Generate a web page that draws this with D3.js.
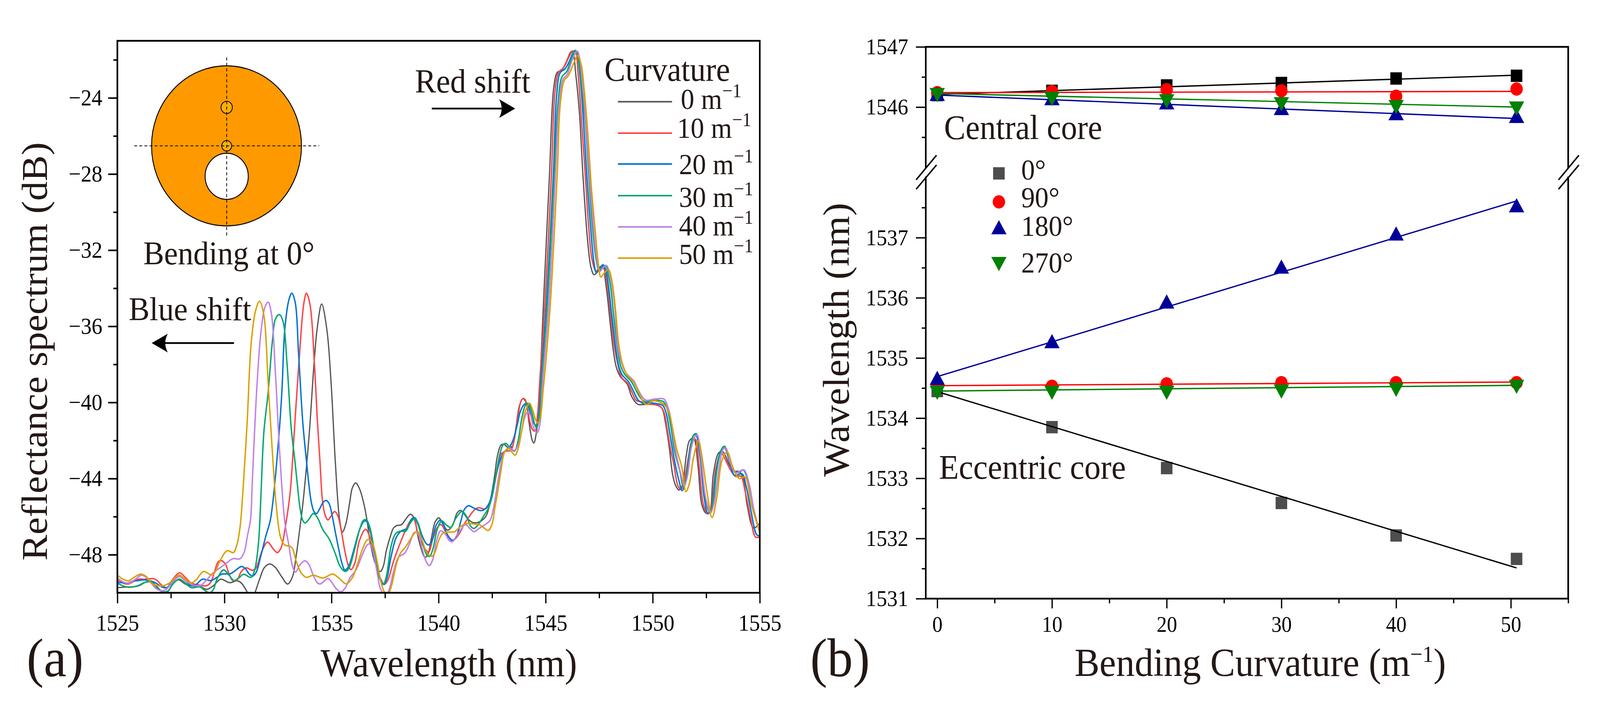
<!DOCTYPE html>
<html><head><meta charset="utf-8">
<script src="https://cdn.jsdelivr.net/npm/d3@7"></script>
<style>
html,body{margin:0;padding:0;background:#fff;overflow:hidden}
svg{display:block;width:100vw;height:100vh}
text{font-family:"Liberation Serif",serif;fill:#231815}
</style></head><body>
<svg id="c" viewBox="0 0 4376 1831" preserveAspectRatio="none"></svg>
<script>
// ---------- panel (a) data: [wavelength nm, reflectance dB]
const curve0 = [[1525,-49.73],[1525.44,-49.70],[1525.72,-49.69],[1526.01,-49.63],[1526.35,-49.43],[1526.63,-49.46],[1526.92,-49.77],[1527.17,-50.0],[1527.37,-49.92],[1527.6,-49.49],[1527.86,-49.32],[1528.17,-49.54],[1528.45,-49.63],[1528.85,-49.67],[1529.17,-49.82],[1529.48,-49.63],[1529.82,-49.29],[1530.25,-49.47],[1530.59,-49.37],[1530.79,-49.49],[1531.1,-50.04],[1531.25,-50.4],[1531.41,-50.04],[1531.64,-49.29],[1531.87,-48.67],[1532.13,-48.49],[1532.38,-48.67],[1532.67,-49.15],[1532.95,-49.54],[1533.18,-49.15],[1533.35,-48.06],[1533.5,-46.8],[1533.66,-45.35],[1533.95,-41.79],[1534.2,-37.71],[1534.34,-36.04],[1534.54,-34.83],[1534.78,-36.14],[1534.98,-38.96],[1535.18,-43.15],[1535.37,-46.08],[1535.51,-46.81],[1535.66,-46.42],[1535.85,-45.26],[1535.97,-44.5],[1536.13,-44.23],[1536.31,-44.54],[1536.51,-45.32],[1536.65,-46.14],[1536.82,-47.44],[1537.05,-48.47],[1537.28,-48.88],[1537.42,-48.6],[1537.56,-47.79],[1537.73,-47.1],[1537.9,-46.59],[1538.05,-46.47],[1538.27,-46.42],[1538.5,-46.08],[1538.69,-45.87],[1538.87,-46.11],[1539.01,-46.9],[1539.16,-47.58],[1539.36,-48.13],[1539.5,-47.99],[1539.67,-47.1],[1539.84,-46.28],[1540.01,-46.06],[1540.2,-46.38],[1540.41,-46.71],[1540.64,-46.49],[1540.87,-45.8],[1541.04,-45.67],[1541.38,-46.14],[1541.63,-46.32],[1541.95,-46.25],[1542.23,-45.94],[1542.46,-44.91],[1542.63,-43.75],[1542.74,-42.86],[1542.91,-42.25],[1543.06,-42.2],[1543.26,-42.39],[1543.43,-42.32],[1543.6,-41.43],[1543.77,-40.2],[1543.94,-39.8],[1544.08,-40.0],[1544.22,-41.02],[1544.37,-41.98],[1544.45,-42.13],[1544.56,-41.63],[1544.68,-40.4],[1544.75,-38.69],[1544.89,-34.98],[1545.18,-28.02],[1545.38,-23.44],[1545.54,-22.67],[1545.76,-22.53],[1545.92,-22.25],[1546.25,-21.57],[1546.41,-22.8],[1546.58,-24.82],[1546.74,-28.02],[1546.96,-31.5],[1547.12,-32.92],[1547.26,-33.29],[1547.4,-33.16],[1547.54,-32.89],[1547.71,-32.82],[1547.77,-33.43],[1547.88,-34.39],[1548.02,-35.89],[1548.16,-37.26],[1548.3,-38.15],[1548.5,-38.66],[1548.81,-39.04],[1549.03,-39.72],[1549.31,-40.1],[1549.65,-40.1],[1549.99,-40.1],[1550.27,-40.16],[1550.44,-40.33],[1550.61,-41.16],[1550.78,-42.43],[1550.93,-43.79],[1551.08,-44.39],[1551.23,-44.6],[1551.37,-44.39],[1551.57,-42.77],[1551.72,-42.0],[1551.91,-41.88],[1552.11,-43.28],[1552.3,-45.4],[1552.5,-45.83],[1552.65,-45.75],[1552.84,-43.71],[1553.09,-42.64],[1553.28,-42.6],[1553.58,-43.28],[1553.82,-43.62],[1554.02,-43.62],[1554.22,-43.96],[1554.41,-45.4],[1554.71,-46.6],[1555,-46.34]];
const curve10 = [[1525,-49.3],[1525.27,-49.49],[1525.5,-49.54],[1525.72,-49.43],[1525.95,-49.29],[1526.29,-49.29],[1526.69,-49.26],[1526.86,-49.36],[1527.09,-49.62],[1527.32,-49.73],[1527.54,-49.36],[1527.91,-48.95],[1528.17,-49.19],[1528.45,-49.49],[1528.85,-49.6],[1529.17,-49.63],[1529.37,-49.43],[1529.54,-48.88],[1529.71,-48.37],[1529.88,-48.32],[1530.05,-48.5],[1530.22,-49.02],[1530.39,-49.36],[1530.59,-49.32],[1530.79,-48.88],[1531.02,-48.69],[1531.3,-48.82],[1531.47,-48.71],[1531.76,-47.79],[1532.01,-47.34],[1532.27,-47.68],[1532.47,-47.89],[1532.64,-47.65],[1532.87,-46.35],[1533.07,-44.72],[1533.26,-41.58],[1533.51,-37.4],[1533.71,-34.78],[1533.83,-34.26],[1534.0,-34.88],[1534.2,-37.92],[1534.34,-40.95],[1534.46,-43.07],[1534.57,-45.05],[1534.69,-45.87],[1534.83,-46.17],[1535.0,-45.94],[1535.14,-45.73],[1535.29,-45.94],[1535.46,-46.76],[1535.63,-47.85],[1535.8,-48.61],[1535.91,-48.78],[1536.08,-48.47],[1536.31,-47.24],[1536.59,-46.67],[1536.82,-47.17],[1537.05,-48.4],[1537.28,-49.22],[1537.45,-49.56],[1537.62,-49.36],[1537.9,-48.33],[1538.19,-47.44],[1538.47,-46.69],[1538.67,-46.25],[1538.84,-46.14],[1539.04,-46.9],[1539.27,-47.51],[1539.53,-47.85],[1539.73,-47.17],[1539.95,-46.56],[1540.12,-46.42],[1540.35,-46.83],[1540.64,-47.24],[1540.92,-46.97],[1541.26,-46.28],[1541.72,-45.6],[1541.89,-45.53],[1542.17,-45.6],[1542.34,-45.39],[1542.57,-44.5],[1542.74,-43.55],[1542.91,-42.73],[1543.14,-42.56],[1543.37,-42.52],[1543.54,-41.91],[1543.71,-40.68],[1543.88,-39.86],[1544.0,-39.8],[1544.11,-40.06],[1544.25,-40.95],[1544.39,-41.43],[1544.51,-41.5],[1544.62,-40.68],[1544.74,-38.63],[1544.96,-34.98],[1545.27,-28.02],[1545.43,-23.72],[1545.6,-22.67],[1545.81,-22.44],[1545.98,-22.07],[1546.19,-21.57],[1546.38,-21.57],[1546.52,-22.8],[1546.68,-25.28],[1546.85,-28.02],[1547.01,-30.77],[1547.17,-32.51],[1547.36,-33.11],[1547.51,-32.89],[1547.65,-32.89],[1547.77,-33.09],[1547.88,-33.84],[1548.05,-35.55],[1548.19,-36.92],[1548.36,-37.94],[1548.55,-38.69],[1548.81,-38.97],[1549.0,-39.38],[1549.23,-39.89],[1549.48,-39.97],[1549.82,-40.08],[1550.16,-40.13],[1550.41,-40.27],[1550.55,-40.61],[1550.69,-41.5],[1550.83,-42.45],[1550.98,-43.2],[1551.18,-44.39],[1551.32,-44.56],[1551.47,-44.13],[1551.67,-42.86],[1551.81,-42.09],[1551.98,-41.92],[1552.16,-43.28],[1552.37,-45.4],[1552.57,-45.86],[1552.75,-45.4],[1552.94,-43.54],[1553.19,-42.64],[1553.33,-42.86],[1553.63,-43.54],[1553.87,-43.88],[1554.12,-43.88],[1554.31,-44.64],[1554.56,-46.0],[1554.8,-47.07],[1555,-47.07]];
const curve20 = [[1525,-49.45],[1525.21,-49.47],[1525.5,-49.49],[1525.72,-49.39],[1525.95,-49.36],[1526.29,-49.32],[1526.58,-49.39],[1526.8,-49.49],[1527.09,-49.7],[1527.32,-49.73],[1527.54,-49.43],[1527.91,-49.12],[1528.17,-49.36],[1528.45,-49.63],[1528.68,-49.56],[1528.97,-49.29],[1529.37,-49.36],[1529.65,-49.19],[1529.88,-49.02],[1530.28,-49.0],[1530.5,-48.84],[1530.79,-48.62],[1530.96,-48.71],[1531.16,-49.02],[1531.3,-49.12],[1531.47,-48.95],[1531.7,-48.06],[1531.93,-47.03],[1532.15,-46.14],[1532.48,-42.63],[1532.68,-39.49],[1532.82,-36.14],[1533.02,-34.57],[1533.15,-34.26],[1533.31,-34.78],[1533.46,-37.4],[1533.66,-41.06],[1533.83,-43.07],[1533.95,-44.37],[1534.06,-45.26],[1534.18,-45.73],[1534.3,-45.84],[1534.46,-45.56],[1534.6,-45.26],[1534.75,-45.15],[1534.89,-45.32],[1535.03,-45.94],[1535.17,-46.76],[1535.34,-47.72],[1535.51,-48.54],[1535.63,-48.81],[1535.8,-48.61],[1536.03,-47.79],[1536.31,-46.69],[1536.51,-46.25],[1536.62,-46.23],[1536.79,-46.69],[1536.99,-47.79],[1537.22,-49.08],[1537.45,-49.56],[1537.59,-49.22],[1537.79,-48.06],[1538.02,-47.1],[1538.25,-46.76],[1538.53,-46.62],[1538.73,-46.14],[1538.89,-46.06],[1539.04,-46.35],[1539.24,-47.03],[1539.44,-47.44],[1539.55,-47.48],[1539.7,-47.24],[1539.87,-46.49],[1540.09,-46.18],[1540.24,-46.42],[1540.41,-46.97],[1540.64,-47.25],[1540.81,-47.1],[1541.03,-46.28],[1541.2,-45.63],[1541.4,-45.43],[1541.66,-45.56],[1541.89,-45.67],[1542.06,-45.67],[1542.23,-45.53],[1542.4,-45.19],[1542.57,-44.37],[1542.74,-43.55],[1542.91,-42.93],[1543.08,-42.59],[1543.31,-42.35],[1543.48,-41.98],[1543.65,-41.29],[1543.82,-40.47],[1544.0,-40.1],[1544.14,-40.06],[1544.28,-40.54],[1544.45,-41.09],[1544.58,-41.22],[1544.68,-40.74],[1544.79,-38.69],[1545.03,-34.98],[1545.36,-28.02],[1545.51,-23.9],[1545.68,-22.67],[1545.9,-22.48],[1546.09,-22.12],[1546.3,-21.61],[1546.44,-21.57],[1546.6,-22.8],[1546.77,-25.28],[1546.92,-28.02],[1547.1,-30.77],[1547.26,-32.68],[1547.37,-33.19],[1547.54,-32.92],[1547.68,-32.77],[1547.82,-33.09],[1547.93,-33.84],[1548.1,-35.55],[1548.27,-37.12],[1548.41,-38.08],[1548.58,-38.56],[1548.86,-38.9],[1549.09,-39.38],[1549.31,-39.86],[1549.54,-40.03],[1549.82,-40.01],[1550.16,-40.06],[1550.47,-40.16],[1550.64,-40.61],[1550.78,-41.5],[1550.92,-42.45],[1551.08,-43.4],[1551.23,-44.13],[1551.37,-44.63],[1551.52,-44.22],[1551.72,-42.6],[1551.88,-41.79],[1552.01,-41.68],[1552.21,-42.86],[1552.4,-44.98],[1552.58,-45.83],[1552.73,-45.66],[1552.94,-43.79],[1553.19,-42.52],[1553.35,-42.35],[1553.58,-43.11],[1553.82,-43.83],[1554.17,-43.75],[1554.36,-44.39],[1554.61,-45.83],[1554.85,-46.94],[1555,-47.02]];
const curve30 = [[1525,-49.49],[1525.27,-49.64],[1525.55,-49.71],[1525.95,-49.63],[1526.35,-49.43],[1526.63,-49.46],[1526.86,-49.77],[1527.15,-49.96],[1527.37,-49.9],[1527.6,-49.53],[1527.89,-49.28],[1528.17,-49.49],[1528.45,-49.73],[1528.85,-49.69],[1529.08,-49.87],[1529.31,-50.0],[1529.48,-49.84],[1529.65,-49.29],[1529.96,-48.8],[1530.22,-49.08],[1530.45,-49.36],[1530.67,-49.22],[1530.9,-49.03],[1531.24,-49.19],[1531.41,-48.81],[1531.59,-47.38],[1531.7,-45.0],[1531.84,-41.58],[1532.04,-39.49],[1532.24,-36.77],[1532.38,-35.62],[1532.56,-35.38],[1532.73,-35.72],[1532.92,-37.92],[1533.12,-41.37],[1533.29,-43.07],[1533.41,-44.37],[1533.52,-45.47],[1533.64,-46.15],[1533.75,-46.33],[1533.89,-46.22],[1534.15,-45.84],[1534.32,-46.01],[1534.6,-46.69],[1534.89,-47.17],[1535.17,-47.92],[1535.4,-48.61],[1535.63,-48.88],[1535.8,-48.74],[1536.08,-47.72],[1536.31,-46.69],[1536.48,-46.21],[1536.62,-46.16],[1536.79,-46.56],[1536.99,-47.72],[1537.22,-49.15],[1537.42,-49.56],[1537.56,-49.15],[1537.79,-47.51],[1537.99,-46.9],[1538.19,-46.77],[1538.47,-46.76],[1538.67,-46.35],[1538.87,-46.11],[1539.04,-46.42],[1539.27,-47.44],[1539.44,-47.99],[1539.58,-48.09],[1539.73,-47.72],[1539.95,-46.62],[1540.15,-46.23],[1540.35,-46.42],[1540.56,-46.57],[1540.81,-46.08],[1541.09,-45.73],[1541.32,-46.01],[1541.49,-46.49],[1541.66,-46.62],[1541.89,-46.35],[1542.12,-45.94],[1542.34,-45.53],[1542.52,-44.85],[1542.69,-43.75],[1542.86,-42.73],[1543.0,-42.25],[1543.14,-42.15],[1543.31,-42.35],[1543.54,-42.56],[1543.71,-42.04],[1543.88,-40.88],[1544.05,-40.16],[1544.19,-40.05],[1544.34,-40.47],[1544.51,-41.22],[1544.58,-41.33],[1544.71,-40.68],[1544.82,-38.69],[1545.07,-34.98],[1545.4,-28.02],[1545.57,-24.36],[1545.76,-22.9],[1545.98,-22.62],[1546.19,-21.98],[1546.38,-21.5],[1546.52,-21.89],[1546.68,-23.44],[1546.85,-25.28],[1547.01,-28.02],[1547.17,-30.59],[1547.36,-32.51],[1547.5,-33.06],[1547.68,-32.85],[1547.81,-32.82],[1547.93,-33.29],[1548.05,-34.05],[1548.19,-35.62],[1548.36,-37.19],[1548.5,-38.08],[1548.69,-38.52],[1549.0,-38.9],[1549.23,-39.38],[1549.45,-39.79],[1549.65,-39.96],[1549.93,-39.92],[1550.21,-39.89],[1550.5,-39.96],[1550.69,-40.4],[1550.86,-41.36],[1551.0,-42.45],[1551.27,-43.62],[1551.42,-44.39],[1551.57,-43.96],[1551.76,-42.43],[1551.91,-41.71],[1552.04,-41.65],[1552.24,-42.86],[1552.45,-44.98],[1552.65,-45.75],[1552.79,-45.41],[1552.99,-43.62],[1553.19,-42.52],[1553.35,-42.3],[1553.58,-42.94],[1553.82,-43.66],[1554.07,-43.66],[1554.22,-43.54],[1554.46,-44.13],[1554.71,-45.58],[1555,-46.85]];
const curve40 = [[1525,-49.22],[1525.27,-49.43],[1525.55,-49.49],[1525.84,-49.29],[1526.12,-49.08],[1526.35,-49.19],[1526.58,-49.49],[1526.8,-49.77],[1527.03,-49.89],[1527.26,-49.84],[1527.54,-49.49],[1527.89,-49.15],[1528.17,-49.36],[1528.45,-49.56],[1528.68,-49.63],[1528.91,-49.6],[1529.14,-49.36],[1529.48,-48.95],[1529.82,-48.67],[1530.11,-48.43],[1530.39,-48.21],[1530.73,-48.21],[1530.93,-47.85],[1531.07,-47.03],[1531.22,-46.14],[1531.3,-44.19],[1531.5,-39.49],[1531.7,-36.35],[1531.89,-35.0],[1532.04,-34.73],[1532.19,-35.3],[1532.38,-38.44],[1532.58,-42.63],[1532.82,-46.29],[1533.01,-47.51],[1533.18,-48.61],[1533.32,-48.91],[1533.52,-48.54],[1533.75,-48.32],[1533.92,-48.47],[1534.15,-49.08],[1534.35,-49.49],[1534.49,-49.53],[1534.83,-49.25],[1535.0,-49.43],[1535.23,-49.8],[1535.43,-49.95],[1535.63,-49.77],[1535.86,-49.22],[1536.14,-48.81],[1536.42,-48.06],[1536.65,-47.51],[1536.78,-47.43],[1536.94,-47.85],[1537.11,-48.81],[1537.28,-49.77],[1537.42,-50.04],[1537.56,-50.11],[1537.71,-49.77],[1537.9,-48.88],[1538.13,-48.13],[1538.42,-47.92],[1538.64,-47.44],[1538.87,-46.83],[1539.04,-46.9],[1539.21,-47.58],[1539.41,-48.33],[1539.57,-48.57],[1539.73,-48.25],[1539.9,-47.29],[1540.09,-46.75],[1540.29,-46.88],[1540.49,-47.24],[1540.64,-47.32],[1540.86,-46.97],[1541.26,-46.42],[1541.46,-46.62],[1541.66,-46.79],[1541.89,-46.62],[1542.17,-46.42],[1542.4,-46.21],[1542.57,-45.53],[1542.77,-44.16],[1542.94,-43.07],[1543.08,-42.59],[1543.28,-42.39],[1543.54,-42.52],[1543.71,-42.25],[1543.88,-41.5],[1544.02,-40.81],[1544.14,-40.53],[1544.28,-40.64],[1544.45,-41.36],[1544.61,-41.58],[1544.74,-41.09],[1544.85,-39.04],[1545.14,-34.98],[1545.46,-28.02],[1545.62,-24.36],[1545.81,-23.03],[1546.01,-22.76],[1546.25,-21.98],[1546.47,-21.54],[1546.6,-21.98],[1546.74,-23.44],[1546.9,-25.73],[1547.07,-28.48],[1547.23,-30.77],[1547.39,-32.51],[1547.53,-33.11],[1547.68,-32.92],[1547.84,-32.8],[1547.96,-33.09],[1548.1,-33.84],[1548.22,-34.93],[1548.38,-37.12],[1548.55,-37.94],[1548.75,-38.45],[1549.12,-38.87],[1549.31,-39.31],[1549.54,-39.75],[1549.71,-39.89],[1549.99,-39.84],[1550.27,-39.8],[1550.52,-39.82],[1550.72,-40.27],[1550.89,-41.16],[1551.03,-42.32],[1551.32,-43.79],[1551.47,-44.39],[1551.62,-43.88],[1551.81,-42.35],[1551.98,-41.79],[1552.08,-41.71],[1552.25,-42.86],[1552.47,-44.98],[1552.7,-45.79],[1552.86,-45.32],[1553.09,-43.54],[1553.28,-42.48],[1553.41,-42.39],[1553.63,-43.2],[1553.87,-43.71],[1554.07,-43.61],[1554.26,-43.54],[1554.51,-44.3],[1554.75,-45.83],[1555,-46.77]];
const curve50 = [[1525,-49.07],[1525.27,-49.29],[1525.52,-49.37],[1525.78,-49.19],[1526.09,-49.02],[1526.35,-49.15],[1526.58,-49.49],[1526.86,-49.63],[1527.15,-49.63],[1527.43,-49.49],[1527.71,-49.19],[1527.91,-49.08],[1528.17,-49.29],[1528.45,-49.48],[1528.68,-49.32],[1529.02,-48.88],[1529.37,-49.05],[1529.54,-48.95],[1529.82,-48.26],[1530.13,-47.79],[1530.42,-47.89],[1530.59,-47.44],[1530.73,-46.55],[1530.86,-44.72],[1531.06,-41.06],[1531.25,-36.87],[1531.45,-35.2],[1531.64,-34.68],[1531.84,-35.41],[1532.04,-38.96],[1532.24,-42.63],[1532.43,-45.55],[1532.63,-47.12],[1532.82,-47.49],[1533.07,-47.56],[1533.18,-47.68],[1533.35,-48.33],[1533.58,-48.95],[1533.83,-49.19],[1534.15,-49.08],[1534.6,-49.22],[1535.06,-49.02],[1535.34,-49.22],[1535.68,-49.53],[1535.97,-49.22],[1536.2,-48.54],[1536.42,-47.79],[1536.65,-47.24],[1536.79,-47.2],[1536.97,-47.58],[1537.14,-48.4],[1537.31,-49.43],[1537.48,-49.97],[1537.65,-50.04],[1537.82,-49.56],[1538.02,-48.54],[1538.22,-47.92],[1538.47,-47.58],[1538.73,-47.1],[1538.93,-46.81],[1539.04,-46.81],[1539.21,-47.17],[1539.38,-47.72],[1539.55,-48.02],[1539.7,-48.08],[1539.84,-47.85],[1540.01,-47.24],[1540.21,-46.86],[1540.47,-46.81],[1540.75,-46.79],[1540.98,-46.56],[1541.26,-46.37],[1541.6,-46.38],[1541.89,-46.42],[1542.12,-46.59],[1542.32,-46.73],[1542.49,-46.42],[1542.63,-45.53],[1542.77,-44.64],[1542.91,-43.62],[1543.08,-42.62],[1543.26,-42.42],[1543.43,-42.62],[1543.57,-42.77],[1543.71,-42.45],[1543.88,-41.5],[1544.05,-40.47],[1544.25,-40.05],[1544.39,-40.4],[1544.56,-40.98],[1544.65,-41.07],[1544.76,-40.75],[1544.88,-39.38],[1544.97,-38.35],[1545.21,-34.98],[1545.54,-28.02],[1545.68,-24.36],[1545.87,-23.08],[1546.05,-22.85],[1546.3,-22.21],[1546.49,-21.78],[1546.66,-22.25],[1546.79,-23.44],[1546.96,-25.73],[1547.14,-28.76],[1547.32,-31.05],[1547.45,-32.6],[1547.58,-33.41],[1547.74,-33.19],[1547.93,-33.01],[1548.05,-33.36],[1548.16,-34.11],[1548.27,-35.21],[1548.41,-36.92],[1548.58,-37.94],[1548.81,-38.56],[1549.09,-38.9],[1549.31,-39.38],[1549.54,-39.92],[1549.71,-40.12],[1549.99,-39.92],[1550.27,-39.96],[1550.55,-40.13],[1550.78,-40.61],[1550.95,-41.5],[1551.12,-42.45],[1551.37,-43.45],[1551.55,-44.69],[1551.72,-44.22],[1551.91,-42.86],[1552.14,-42.02],[1552.3,-42.86],[1552.55,-44.81],[1552.77,-46.05],[1552.99,-45.0],[1553.24,-43.03],[1553.48,-42.6],[1553.73,-43.37],[1554.04,-44.0],[1554.31,-43.92],[1554.61,-45.4],[1555,-46.81]];
const curveLabels = ["0","10","20","30","40","50"];
const curveColors = ["#555555","#ff4444","#0073d6","#00a86b","#c080e6","#dc9f00"];
const xTicksA = [1525,1530,1535,1540,1545,1550,1555];
const yTicksA = [-24,-28,-32,-36,-40,-44,-48];

// ---------- panel (b) data
const curvature = [0,10,20,30,40,50.5];
const angleLabels = ["0°","90°","180°","270°"];
const angleColors = ["#000000","#ff0000","#000099","#008000"];
const top0   = [1546.20,1546.27,1546.36,1546.40,1546.475,1546.52];
const top90  = [1546.24,1546.26,1546.29,1546.27,1546.18,1546.30];
const top180 = [1546.18,1546.11,1546.04,1545.945,1545.86,1545.815];
const top270 = [1546.24,1546.175,1546.136,1546.087,1546.04,1546.015];
const low0   = [1534.45,1533.85,1533.17,1532.59,1532.05,1531.66];
const low90  = [1534.54,1534.53,1534.57,1534.59,1534.59,1534.59];
const low180 = [1534.63,1535.24,1535.90,1536.48,1537.03,1537.50];
const low270 = [1534.46,1534.46,1534.46,1534.48,1534.51,1534.56];
const fitCurvature = [0,50.5];
const fitTop = [[1546.21,1546.53],[1546.24,1546.26],[1546.20,1545.81],[1546.226,1546.0]];
const fitLow = [[1534.44,1531.51],[1534.54,1534.60],[1534.69,1537.61],[1534.45,1534.545]];
const xTicksB = [0,5,10,15,20,25,30,35,40,45,50,55];

// ---------- layout
const svg = d3.select("#c");
svg.append("rect").attr("width",4376).attr("height",1831).attr("fill","#fff");

function label(x,y,t,size,anchor,rot){
  const s = svg.append("text").attr("font-size",size).attr("text-anchor",anchor||"start").text(t);
  if(rot) s.attr("transform",`translate(${x},${y}) rotate(${rot})`);
  else s.attr("x",x).attr("y",y);
  return s;
}
function sup(s,t,size,dy){
  s.append("tspan").attr("font-size",size).attr("dy",-dy).text(t);
  return s;
}
function arrow(x0,x1,y){
  const d = x1>x0?1:-1;
  svg.append("line").attr("x1",x0).attr("x2",x1-d*30).attr("y1",y).attr("y2",y).attr("stroke","#000").attr("stroke-width",4.5);
  svg.append("path").attr("fill","#000")
    .attr("d",`M${x1},${y}L${x1-d*44},${y-24}Q${x1-d*30},${y} ${x1-d*44},${y+24}Z`);
}

// ---------- panel (a)
const ax = {l:321,r:2078,t:104.5,b:1518};
const xA = d3.scaleLinear().domain([1525,1555]).range([ax.l,ax.r]);
const yA = d3.scaleLinear().domain([-50,-21]).range([ax.b,ax.t]);
svg.append("clipPath").attr("id","clipA").append("rect")
  .attr("x",ax.l).attr("y",ax.t).attr("width",ax.r-ax.l).attr("height",ax.b-ax.t);

const lineA = d3.line().x(d=>xA(d[0])).y(d=>yA(d[1])).curve(d3.curveCatmullRom.alpha(0.5));
const gA = svg.append("g").attr("clip-path","url(#clipA)");
[curve0,curve10,curve20,curve30,curve40,curve50].forEach((c,i)=>{
  gA.append("path").attr("d",lineA(c)).attr("fill","none")
    .attr("stroke",curveColors[i]).attr("stroke-width",i===0?3.4:3.8).attr("stroke-linejoin","round");
});

const axA = svg.append("g").attr("transform",`translate(0,${ax.b})`)
  .call(d3.axisBottom(xA).tickValues(d3.range(1525,1555.1,2.5)).tickSize(27).tickPadding(28)
    .tickFormat(d=>xTicksA.includes(d)?d3.format("d")(d):""));
axA.select(".domain").remove();
axA.selectAll(".tick line").attr("y2",d=>xTicksA.includes(d)?27:14).attr("stroke","#000").attr("stroke-width",3.5);
axA.selectAll("text").attr("font-size",59).style("fill","#000");

const ayA = svg.append("g").attr("transform",`translate(${ax.l},0)`)
  .call(d3.axisLeft(yA).tickValues(d3.range(-48,-21,2)).tickSize(25).tickPadding(16)
    .tickFormat(d=>yTicksA.includes(d)?d3.format("d")(d):""));
ayA.select(".domain").remove();
ayA.selectAll(".tick line").attr("x2",d=>yTicksA.includes(d)?-25:-11).attr("stroke","#000").attr("stroke-width",4);
ayA.selectAll("text").attr("font-size",59).style("fill","#000");

svg.append("rect").attr("x",ax.l).attr("y",ax.t).attr("width",ax.r-ax.l).attr("height",ax.b-ax.t)
  .attr("fill","none").attr("stroke","#000").attr("stroke-width",4.5);

label(877,1732,"Wavelength (nm)",101);
label(128,900,"Reflectance spectrum (dB)",100,"middle",-90);
label(73,1732,"(a)",140);

// inset fibre section
const ins = svg.append("g");
ins.append("circle").attr("cx",619.5).attr("cy",373.5).attr("r",205).attr("fill","#ff9900").attr("stroke","#000").attr("stroke-width",2.5);
ins.append("circle").attr("cx",620).attr("cy",451.5).attr("r",59).attr("fill","#fff").attr("stroke","#000").attr("stroke-width",2.5);
ins.append("circle").attr("cx",620).attr("cy",275).attr("r",15.5).attr("fill","#ffb000").attr("stroke","#000").attr("stroke-width",2.2);
ins.append("circle").attr("cx",620).attr("cy",373.5).attr("r",13.5).attr("fill","#ffb000").attr("stroke","#000").attr("stroke-width",2.2);
ins.append("line").attr("x1",620).attr("x2",620).attr("y1",147).attr("y2",603).attr("stroke","#000").attr("stroke-width",2).attr("stroke-dasharray","8 6");
ins.append("line").attr("x1",367).attr("x2",873).attr("y1",373.5).attr("y2",373.5).attr("stroke","#000").attr("stroke-width",2).attr("stroke-dasharray","8 6");
label(392,677,"Bending at 0°",85);

label(352,820,"Blue shift",85.5);
arrow(640,415,878.5);
label(1135,237,"Red shift",86.8);
arrow(1181,1409,278);

label(1653,207,"Curvature",86);
const legY = [260.5,341,420,501,581,661];
const legBase = [279,353,446,530,603,676];
const legX = [1862,1852,1857,1857,1857,1857];
curveLabels.forEach((t,i)=>{
  svg.append("line").attr("x1",1690).attr("x2",1838).attr("y1",legY[i]).attr("y2",legY[i])
    .attr("stroke",curveColors[i]).attr("stroke-width",4);
  const s = label(legX[i],legBase[i],t+" m",74);
  sup(s,"−1",50,30);
});

// ---------- panel (b)
const bx = {l:2532,r:4289,t:120,b:1533,bk0:428.5,bk1:454.5};
const xB = d3.scaleLinear().domain([-1,55]).range([bx.l,bx.r]);
const yTop = d3.scaleLinear().domain([1545,1547]).range([bx.bk0,bx.t]);
const yLow = d3.scaleLinear().domain([1531,1538]).range([bx.b,bx.bk1]);

const symbols = [d3.symbolSquare,d3.symbolCircle,d3.symbolTriangle,d3.symbolTriangle];
const sizes = [1000,908,760,760];
const rots = [0,0,0,180];
function mark(g,x,y,i,fill){
  g.append("path").attr("d",d3.symbol(symbols[i],sizes[i])())
    .attr("transform",`translate(${x},${y}) rotate(${rots[i]})`).attr("fill",fill);
}
function drawGroup(vals,fits,scale,firstFill){
  const line = d3.line().x(d=>xB(d[0])).y(d=>scale(d[1]));
  const g = svg.append("g");
  vals.forEach((v,i)=>{
    const fill = i===0?firstFill:angleColors[i];
    v.forEach((val,j)=>mark(g,xB(curvature[j]),scale(val),i,fill));
    g.append("path").attr("d",line(d3.zip(fitCurvature,fits[i]))).attr("fill","none")
      .attr("stroke",angleColors[i]).attr("stroke-width",3.4);
  });
}
drawGroup([top0,top90,top180,top270],fitTop,yTop,"#000000");
drawGroup([low0,low90,low180,low270],fitLow,yLow,"#4d4d4d");

const axB = svg.append("g").attr("transform",`translate(0,${bx.b})`)
  .call(d3.axisBottom(xB).tickValues(xTicksB).tickSize(25).tickPadding(20)
    .tickFormat(d=>(d%10===0&&d<=50)?d:""));
axB.select(".domain").remove();
axB.selectAll(".tick line").attr("y2",d=>d%10===0&&d<=50?25:12).attr("stroke","#000").attr("stroke-width",3.5);
axB.selectAll("text").attr("font-size",56).style("fill","#000");

function yAxisB(scale,vals){
  const a = svg.append("g").attr("transform",`translate(${bx.l},0)`)
    .call(d3.axisLeft(scale).tickValues(vals).tickSize(27).tickPadding(21)
      .tickFormat(d=>Number.isInteger(d)?d3.format("d")(d):""));
  a.select(".domain").remove();
  a.selectAll(".tick line").attr("x2",d=>Number.isInteger(d)?-27:-11).attr("stroke","#000").attr("stroke-width",3.5);
  a.selectAll("text").attr("font-size",58).style("fill","#000");
}
yAxisB(yTop,[1545.5,1546,1546.5,1547]);
yAxisB(yLow,d3.range(1531,1537.6,0.5));

const frame = svg.append("g").attr("stroke","#000").attr("fill","none").attr("stroke-linecap","square");
frame.append("path").attr("stroke-width",4.5).attr("d",`M${bx.l},${bx.bk0}V${bx.t}H${bx.r}V${bx.bk0}`);
frame.append("path").attr("stroke-width",4.5).attr("d",`M${bx.l},${bx.bk1}V${bx.b}H${bx.r}V${bx.bk1}`);
[bx.l,bx.r].forEach(x=>{
  frame.append("line").attr("x1",x-25).attr("x2",x+28).attr("y1",459).attr("y2",399).attr("stroke-width",4);
  frame.append("line").attr("x1",x-25).attr("x2",x+28).attr("y1",483).attr("y2",424).attr("stroke-width",4);
});

label(2582,356,"Central core",88);
label(2568,1226,"Eccentric core",89);

const legBy = [444,517,588,670];
const legBb = [460,531,604,698];
angleLabels.forEach((t,i)=>{
  mark(svg,2732,legBy[i],i,i===0?"#4d4d4d":angleColors[i]);
  label(2793,legBb[i],t,75);
});

sup(label(2939,1731,"Bending Curvature (m",102),"−1",60,36).append("tspan").attr("font-size",102).attr("dy",36).text(")");
label(2322,870,"Wavelength (nm)",101,"middle",-90);
label(2216,1732,"(b)",140);
</script>
</body></html>
